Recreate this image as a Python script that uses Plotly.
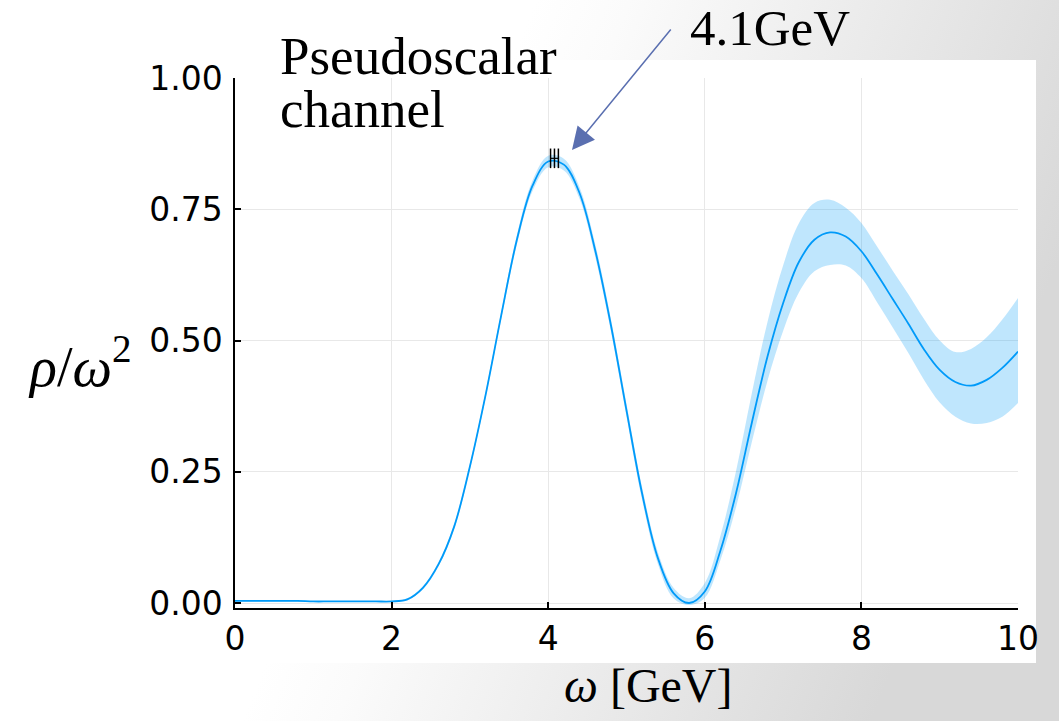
import base64
import plotly.graph_objects as go

# ---------------- data ----------------
omega = [0.0, 0.2, 0.4, 0.6, 0.8, 1.0, 1.2, 1.4, 1.6, 1.8,
         2.0, 2.2, 2.4, 2.6, 2.8, 3.0, 3.2, 3.4, 3.6, 3.8,
         4.0, 4.2, 4.4, 4.6, 4.8, 5.0, 5.2, 5.4, 5.6, 5.8,
         6.0, 6.2, 6.4, 6.6, 6.8, 7.0, 7.2, 7.4, 7.6, 7.8,
         8.0, 8.2, 8.4, 8.6, 8.8, 9.0, 9.2, 9.4, 9.6, 9.8, 10.0]
rho = [0.004, 0.004, 0.004, 0.004, 0.004, 0.003, 0.003, 0.003, 0.003, 0.003,
       0.003, 0.007, 0.029, 0.074, 0.146, 0.260, 0.396, 0.548, 0.692, 0.795,
       0.841, 0.835, 0.781, 0.672, 0.530, 0.367, 0.208, 0.086, 0.019, 0.000,
       0.022, 0.100, 0.210, 0.343, 0.469, 0.571, 0.649, 0.692, 0.706, 0.698,
       0.670, 0.626, 0.579, 0.532, 0.483, 0.444, 0.421, 0.414, 0.425, 0.448, 0.479]
band_hi = [0.005, 0.005, 0.005, 0.005, 0.005, 0.004, 0.004, 0.004, 0.004, 0.004,
           0.004, 0.009, 0.032, 0.078, 0.151, 0.265, 0.402, 0.555, 0.701, 0.805,
           0.852, 0.846, 0.792, 0.684, 0.542, 0.379, 0.220, 0.097, 0.029, 0.009,
           0.038, 0.128, 0.252, 0.399, 0.535, 0.643, 0.723, 0.762, 0.768, 0.753,
           0.724, 0.679, 0.633, 0.588, 0.541, 0.500, 0.478, 0.484, 0.506, 0.540, 0.581]
band_lo = [0.003, 0.003, 0.003, 0.003, 0.003, 0.002, 0.002, 0.002, 0.002, 0.002,
           0.002, 0.005, 0.026, 0.070, 0.141, 0.255, 0.390, 0.541, 0.683, 0.785,
           0.830, 0.824, 0.770, 0.660, 0.518, 0.355, 0.196, 0.075, 0.009, -0.004,
           0.010, 0.082, 0.183, 0.306, 0.423, 0.518, 0.591, 0.632, 0.644, 0.643,
           0.619, 0.573, 0.525, 0.476, 0.425, 0.382, 0.355, 0.342, 0.343, 0.355, 0.381]
peak_omega = [4.03, 4.08, 4.13]
peak_rho = [0.847, 0.847, 0.847]

x_ticks = [0, 2, 4, 6, 8, 10]
y_ticks = [0.0, 0.25, 0.5, 0.75, 1.0]
y_tick_text = ["0.00", "0.25", "0.50", "0.75", "1.00"]

# ---------------- layout geometry ----------------
W, H = 1059, 721
L, R, T, B = 235, 41, 78, 113
PW, PH = W - L - R, H - T - B


def px_x(px):
    return (px - L) / PW


def px_y(py):
    return (H - B - py) / PH


BLUE = "#009af9"
SPL = dict(shape="spline", smoothing=1.0)

fig = go.Figure()
fig.add_trace(go.Scatter(x=omega, y=band_lo, mode="lines", line=dict(width=0, **SPL),
                         hoverinfo="skip", showlegend=False))
fig.add_trace(go.Scatter(x=omega, y=band_hi, mode="lines", line=dict(width=0, **SPL),
                         fill="tonexty", fillcolor="rgba(0,154,249,0.25)", hoverinfo="skip", showlegend=False))
fig.add_trace(go.Scatter(x=omega, y=rho, mode="lines", line=dict(color=BLUE, width=1.8, **SPL),
                         showlegend=False))
fig.add_trace(go.Scatter(x=peak_omega, y=peak_rho, mode="lines+markers",
                         line=dict(color="black", width=1.2),
                         marker=dict(symbol="line-ns", size=14, line=dict(color="black", width=1.5)),
                         showlegend=False))

# gradient background of the slide
svg = ('<svg xmlns="http://www.w3.org/2000/svg" width="1059" height="721" viewBox="0 0 1059 721" '
       'preserveAspectRatio="none"><defs><linearGradient id="g" gradientUnits="userSpaceOnUse" '
       'x1="560" y1="-60" x2="1100" y2="160"><stop offset="0" stop-color="#ffffff"/>'
       '<stop offset="0.15" stop-color="#fbfbfb"/><stop offset="1" stop-color="#d8d8d8"/>'
       '</linearGradient></defs><rect width="1059" height="721" fill="url(#g)"/></svg>')
src = "data:image/svg+xml;base64," + base64.b64encode(svg.encode()).decode()

TICKFONT = dict(family="DejaVu Sans", size=33, color="black")

fig.update_layout(
    width=W, height=H,
    margin=dict(l=L, r=R, t=T, b=B, pad=0),
    paper_bgcolor="white", plot_bgcolor="white",
    images=[dict(source=src, xref="paper", yref="paper", x=px_x(0), y=px_y(0),
                 sizex=W / PW, sizey=H / PH, xanchor="left", yanchor="top",
                 sizing="stretch", layer="below")],
    shapes=[dict(type="rect", xref="paper", yref="paper", x0=px_x(0), x1=px_x(1036),
                 y0=px_y(663), y1=px_y(60), fillcolor="white", line=dict(width=0), layer="below")],
    xaxis=dict(range=[0, 10], tickvals=x_ticks, ticks="inside", ticklen=6, tickwidth=1.5,
               tickcolor="black", showline=True, linecolor="black", linewidth=1.5,
               showgrid=True, gridcolor="#e8e8e8", gridwidth=1, zeroline=False,
               tickfont=TICKFONT, ticklabelstandoff=1),
    yaxis=dict(range=[-0.0095, 1.0], tickvals=y_ticks, ticktext=y_tick_text, ticks="inside",
               ticklen=6, tickwidth=1.5, tickcolor="black", showline=True, linecolor="black",
               linewidth=1.5, showgrid=True, gridcolor="#e8e8e8", gridwidth=1, zeroline=False,
               tickfont=TICKFONT, ticklabelstandoff=4),
    annotations=[
        dict(text="<i>ω</i> [GeV]", xref="paper", yref="paper", x=px_x(648), y=px_y(685),
             xanchor="center", yanchor="middle", showarrow=False,
             font=dict(family="Liberation Serif", size=48, color="black")),
        dict(text="<i>ρ</i>/<i>ω</i><sup>2</sup>", xref="paper", yref="paper", x=px_x(80), y=px_y(362),
             xanchor="center", yanchor="middle", showarrow=False,
             font=dict(family="Liberation Serif", size=56, color="black")),
        dict(text="Pseudoscalar", xref="paper", yref="paper", x=px_x(278), y=px_y(56),
             xanchor="left", yanchor="middle", showarrow=False,
             font=dict(family="Liberation Serif", size=53, color="black")),
        dict(text="channel", xref="paper", yref="paper", x=px_x(278), y=px_y(109),
             xanchor="left", yanchor="middle", showarrow=False,
             font=dict(family="Liberation Serif", size=53, color="black")),
        dict(text="4.1GeV", xref="paper", yref="paper", x=px_x(688), y=px_y(28),
             xanchor="left", yanchor="middle", showarrow=False,
             font=dict(family="Liberation Serif", size=51, color="black")),
        dict(text="", x=(572 - L) / PW * 10, y=(H - B - 150) / PH * 1.0095 - 0.0095,
             xref="x", yref="y", showarrow=True, ax=100, ay=-122, axref="pixel", ayref="pixel",
             arrowhead=2, arrowsize=3, arrowwidth=1.5, arrowcolor="#5a6fb0", standoff=0),
    ],
)

fig.write_html("out.html")
